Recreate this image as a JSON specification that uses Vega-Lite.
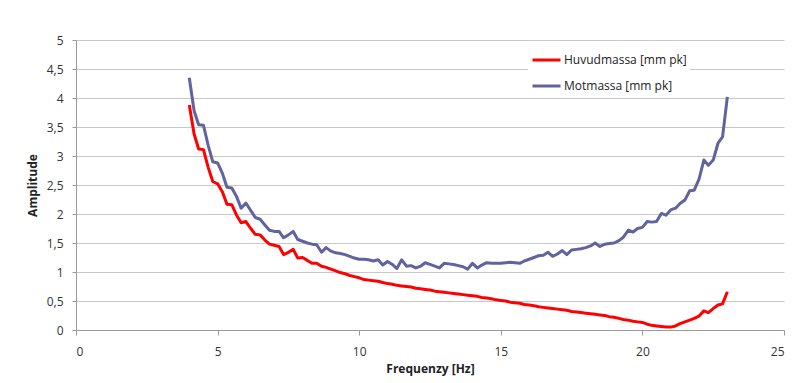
{
  "$schema": "https://vega.github.io/schema/vega-lite/v6.json",
  "width": 708,
  "height": 290,
  "autosize": {"type": "none"},
  "padding": {"left": 76, "top": 40, "right": 18, "bottom": 53},
  "background": "white",
  "config": {
    "view": {"stroke": null},
    "font": "Open Sans"
  },
  "data": {
    "values": [
      {"f": 4.00, "huvud": 3.88, "mot": 4.35},
      {"f": 4.17, "huvud": 3.38, "mot": 3.78},
      {"f": 4.33, "huvud": 3.12, "mot": 3.54},
      {"f": 4.50, "huvud": 3.11, "mot": 3.53},
      {"f": 4.67, "huvud": 2.80, "mot": 3.18},
      {"f": 4.83, "huvud": 2.56, "mot": 2.90},
      {"f": 5.00, "huvud": 2.52, "mot": 2.88},
      {"f": 5.17, "huvud": 2.38, "mot": 2.70},
      {"f": 5.33, "huvud": 2.17, "mot": 2.46},
      {"f": 5.50, "huvud": 2.16, "mot": 2.45},
      {"f": 5.67, "huvud": 1.98, "mot": 2.30},
      {"f": 5.83, "huvud": 1.85, "mot": 2.10},
      {"f": 6.00, "huvud": 1.87, "mot": 2.19},
      {"f": 6.17, "huvud": 1.75, "mot": 2.06},
      {"f": 6.33, "huvud": 1.65, "mot": 1.94},
      {"f": 6.50, "huvud": 1.64, "mot": 1.91},
      {"f": 6.67, "huvud": 1.55, "mot": 1.81},
      {"f": 6.83, "huvud": 1.48, "mot": 1.72},
      {"f": 7.00, "huvud": 1.46, "mot": 1.70},
      {"f": 7.17, "huvud": 1.44, "mot": 1.70},
      {"f": 7.33, "huvud": 1.30, "mot": 1.59},
      {"f": 7.50, "huvud": 1.34, "mot": 1.64},
      {"f": 7.67, "huvud": 1.39, "mot": 1.70},
      {"f": 7.83, "huvud": 1.24, "mot": 1.56},
      {"f": 8.00, "huvud": 1.25, "mot": 1.53},
      {"f": 8.17, "huvud": 1.20, "mot": 1.50},
      {"f": 8.33, "huvud": 1.15, "mot": 1.48},
      {"f": 8.50, "huvud": 1.15, "mot": 1.47},
      {"f": 8.67, "huvud": 1.10, "mot": 1.34},
      {"f": 8.83, "huvud": 1.08, "mot": 1.42},
      {"f": 9.00, "huvud": 1.05, "mot": 1.36},
      {"f": 9.17, "huvud": 1.02, "mot": 1.33},
      {"f": 9.33, "huvud": 0.99, "mot": 1.32},
      {"f": 9.50, "huvud": 0.97, "mot": 1.30},
      {"f": 9.67, "huvud": 0.94, "mot": 1.27},
      {"f": 9.83, "huvud": 0.92, "mot": 1.24},
      {"f": 10.00, "huvud": 0.90, "mot": 1.22},
      {"f": 10.17, "huvud": 0.87, "mot": 1.22},
      {"f": 10.33, "huvud": 0.86, "mot": 1.21},
      {"f": 10.50, "huvud": 0.85, "mot": 1.19},
      {"f": 10.67, "huvud": 0.84, "mot": 1.21},
      {"f": 10.83, "huvud": 0.82, "mot": 1.12},
      {"f": 11.00, "huvud": 0.80, "mot": 1.18},
      {"f": 11.17, "huvud": 0.79, "mot": 1.13},
      {"f": 11.33, "huvud": 0.77, "mot": 1.06},
      {"f": 11.50, "huvud": 0.76, "mot": 1.21},
      {"f": 11.67, "huvud": 0.75, "mot": 1.10},
      {"f": 11.83, "huvud": 0.74, "mot": 1.11},
      {"f": 12.00, "huvud": 0.72, "mot": 1.07},
      {"f": 12.17, "huvud": 0.71, "mot": 1.10},
      {"f": 12.33, "huvud": 0.70, "mot": 1.16},
      {"f": 12.50, "huvud": 0.69, "mot": 1.13},
      {"f": 12.67, "huvud": 0.67, "mot": 1.10},
      {"f": 12.83, "huvud": 0.66, "mot": 1.07},
      {"f": 13.00, "huvud": 0.65, "mot": 1.15},
      {"f": 13.17, "huvud": 0.64, "mot": 1.14},
      {"f": 13.33, "huvud": 0.63, "mot": 1.13},
      {"f": 13.50, "huvud": 0.62, "mot": 1.11},
      {"f": 13.67, "huvud": 0.61, "mot": 1.09},
      {"f": 13.83, "huvud": 0.60, "mot": 1.05},
      {"f": 14.00, "huvud": 0.59, "mot": 1.15},
      {"f": 14.17, "huvud": 0.58, "mot": 1.07},
      {"f": 14.33, "huvud": 0.56, "mot": 1.12},
      {"f": 14.50, "huvud": 0.55, "mot": 1.16},
      {"f": 14.67, "huvud": 0.54, "mot": 1.15},
      {"f": 14.83, "huvud": 0.52, "mot": 1.15},
      {"f": 15.00, "huvud": 0.51, "mot": 1.15},
      {"f": 15.17, "huvud": 0.50, "mot": 1.16},
      {"f": 15.33, "huvud": 0.48, "mot": 1.17},
      {"f": 15.50, "huvud": 0.47, "mot": 1.16},
      {"f": 15.67, "huvud": 0.46, "mot": 1.15},
      {"f": 15.83, "huvud": 0.44, "mot": 1.19},
      {"f": 16.00, "huvud": 0.43, "mot": 1.22},
      {"f": 16.17, "huvud": 0.42, "mot": 1.25},
      {"f": 16.33, "huvud": 0.40, "mot": 1.28},
      {"f": 16.50, "huvud": 0.39, "mot": 1.29},
      {"f": 16.67, "huvud": 0.38, "mot": 1.34},
      {"f": 16.83, "huvud": 0.37, "mot": 1.27},
      {"f": 17.00, "huvud": 0.36, "mot": 1.31},
      {"f": 17.17, "huvud": 0.35, "mot": 1.37},
      {"f": 17.33, "huvud": 0.34, "mot": 1.30},
      {"f": 17.50, "huvud": 0.32, "mot": 1.38},
      {"f": 17.67, "huvud": 0.31, "mot": 1.39},
      {"f": 17.83, "huvud": 0.30, "mot": 1.40},
      {"f": 18.00, "huvud": 0.29, "mot": 1.42},
      {"f": 18.17, "huvud": 0.28, "mot": 1.45},
      {"f": 18.33, "huvud": 0.27, "mot": 1.50},
      {"f": 18.50, "huvud": 0.26, "mot": 1.44},
      {"f": 18.67, "huvud": 0.25, "mot": 1.48},
      {"f": 18.83, "huvud": 0.23, "mot": 1.49},
      {"f": 19.00, "huvud": 0.22, "mot": 1.50},
      {"f": 19.17, "huvud": 0.20, "mot": 1.54},
      {"f": 19.33, "huvud": 0.18, "mot": 1.60},
      {"f": 19.50, "huvud": 0.17, "mot": 1.72},
      {"f": 19.67, "huvud": 0.15, "mot": 1.69},
      {"f": 19.83, "huvud": 0.14, "mot": 1.75},
      {"f": 20.00, "huvud": 0.13, "mot": 1.77},
      {"f": 20.17, "huvud": 0.10, "mot": 1.87},
      {"f": 20.33, "huvud": 0.08, "mot": 1.86},
      {"f": 20.50, "huvud": 0.07, "mot": 1.87},
      {"f": 20.67, "huvud": 0.06, "mot": 2.01},
      {"f": 20.83, "huvud": 0.05, "mot": 1.98},
      {"f": 21.00, "huvud": 0.05, "mot": 2.07},
      {"f": 21.17, "huvud": 0.07, "mot": 2.10},
      {"f": 21.33, "huvud": 0.11, "mot": 2.18},
      {"f": 21.50, "huvud": 0.14, "mot": 2.24},
      {"f": 21.67, "huvud": 0.17, "mot": 2.40},
      {"f": 21.83, "huvud": 0.20, "mot": 2.41},
      {"f": 22.00, "huvud": 0.24, "mot": 2.60},
      {"f": 22.17, "huvud": 0.33, "mot": 2.93},
      {"f": 22.33, "huvud": 0.30, "mot": 2.84},
      {"f": 22.50, "huvud": 0.37, "mot": 2.93},
      {"f": 22.67, "huvud": 0.43, "mot": 3.22},
      {"f": 22.83, "huvud": 0.45, "mot": 3.33},
      {"f": 23.00, "huvud": 0.66, "mot": 4.02}
    ]
  },
  "transform": [{"fold": ["huvud", "mot"], "as": ["serie", "amp"]}],
  "mark": {"type": "line", "strokeWidth": 3, "strokeJoin": "round"},
  "encoding": {
    "x": {
      "field": "f",
      "type": "quantitative",
      "scale": {"domain": [0, 25], "nice": false, "zero": false},
      "axis": {
        "values": [0, 5, 10, 15, 20, 25],
        "grid": false,
        "domainColor": "#9a9a9a",
        "tickColor": "#9a9a9a",
        "tickSize": 5,
        "labelPadding": 11,
        "labelFontSize": 12,
        "labelColor": "#333333",
        "title": "Frequenzy [Hz]",
        "titleFontSize": 12,
        "titleFontWeight": "bold",
        "titleColor": "#222222",
        "titlePadding": 6
      }
    },
    "y": {
      "field": "amp",
      "type": "quantitative",
      "scale": {"domain": [0, 5], "nice": false},
      "axis": {
        "values": [0, 0.5, 1, 1.5, 2, 2.5, 3, 3.5, 4, 4.5, 5],
        "format": "~g",
        "labelExpr": "replace(datum.label, '.', ',')",
        "grid": true,
        "gridColor": "#c8c8c8",
        "gridWidth": 1.2,
        "domainColor": "#9a9a9a",
        "tickColor": "#9a9a9a",
        "tickSize": 4,
        "labelPadding": 9,
        "labelFontSize": 12,
        "labelColor": "#333333",
        "title": "Amplitude",
        "titleFontSize": 12,
        "titleFontWeight": "bold",
        "titleColor": "#222222",
        "titlePadding": 7
      }
    },
    "color": {
      "field": "serie",
      "type": "nominal",
      "scale": {"domain": ["huvud", "mot"], "range": ["#ff0000", "#60639e"]},
      "legend": {
        "title": null,
        "orient": "none",
        "legendX": 452,
        "legendY": 1.5,
        "padding": 3,
        "fillColor": "white",
        "symbolType": "stroke",
        "symbolSize": 784,
        "symbolStrokeWidth": 3,
        "labelFontSize": 12,
        "labelColor": "#222222",
        "labelOffset": 2,
        "rowPadding": 4,
        "labelExpr": "datum.label == 'huvud' ? 'Huvudmassa [mm pk]' : 'Motmassa [mm pk]'"
      }
    }
  }
}
